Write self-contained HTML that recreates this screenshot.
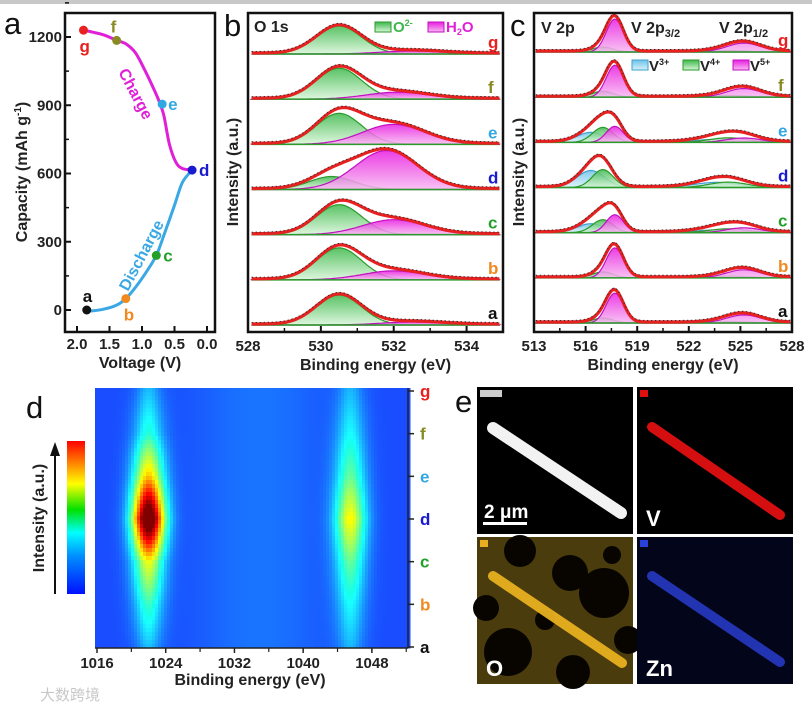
<!DOCTYPE html>
<html><head><meta charset="utf-8">
<style>
html,body{margin:0;padding:0;background:#fff;}
svg{display:block;font-family:"Liberation Sans","Noto Sans CJK SC",sans-serif;}
.tk{font-size:15px;font-weight:bold;fill:#222;}
.ttl{font-size:16px;font-weight:bold;fill:#222;}
.pl{font-size:31px;fill:#111;}
.lt{font-size:17px;font-weight:bold;}
</style></head>
<body>
<svg id="fig" width="812" height="713" viewBox="0 0 812 713">
<rect x="0" y="0" width="812" height="4" fill="#c8c8c8"/>
<defs>
<linearGradient id="gGreen" x1="0" y1="0" x2="0" y2="1"><stop offset="0" stop-color="#3cb84a"/><stop offset="1" stop-color="#d8f5d8"/></linearGradient>
<linearGradient id="gPink" x1="0" y1="0" x2="0" y2="1"><stop offset="0" stop-color="#e81ce0"/><stop offset="1" stop-color="#f8b8f2"/></linearGradient>
<linearGradient id="gBlue" x1="0" y1="0" x2="0" y2="1"><stop offset="0" stop-color="#6cc4e8"/><stop offset="1" stop-color="#d8f0fa"/></linearGradient>
<linearGradient id="gJet" x1="0" y1="1" x2="0" y2="0"><stop offset="0" stop-color="#0010ff"/><stop offset="0.25" stop-color="#0090ff"/><stop offset="0.4" stop-color="#00ffff"/><stop offset="0.55" stop-color="#00e000"/><stop offset="0.72" stop-color="#ffff00"/><stop offset="0.86" stop-color="#ff8000"/><stop offset="1" stop-color="#ff0000"/></linearGradient>
</defs>
<g id="pa"></g>
<g id="pb"></g>
<g id="pc"></g>
<g id="pd"></g>
<g id="pe"></g>
<text x="40" y="700" font-size="15" fill="#c8c8c8">大数跨境</text>
</svg>
<script>
// ---------- Panel a data ----------
const disV=[1.8,1.6,1.4,1.25,1.1,0.95,0.78,0.65,0.5,0.38,0.23];
const disC=[-5,3,20,50,100,160,240,340,460,560,615];
const chV=[0.23,0.38,0.48,0.58,0.66,0.72,0.8,0.95,1.1,1.25,1.39,1.6,1.9];
const chC=[615,622,650,730,850,905,960,1050,1130,1170,1185,1210,1230];
const ptLab=['a','b','c','d','e','f','g'];
const ptV=[1.85,1.25,0.78,0.23,0.69,1.39,1.9];
const ptC=[0,50,240,615,905,1185,1230];
const aXTicks=[2.0,1.5,1.0,0.5,0.0];
const aYTicks=[0,300,600,900,1200];
const labCol={a:'#111',b:'#f08a20',c:'#22a02a',d:'#1a1ad0',e:'#32a8e2',f:'#8a8a22',g:'#e82020'};

// ---------- Panel b data ----------
const oRows=['g','f','e','d','c','b','a'];
const oO2H=[28,31,31,13,30,32,30];
const oO2C=[530.5,530.5,530.5,530.3,530.5,530.5,530.5];
const oH2OH=[3,7,20,39,15,9,3];
const oH2OC=[532.5,532.1,532.0,531.8,532.0,532.0,532.5];
const bXTicks=[528,530,532,534];

// ---------- Panel c data ----------
const vRows=['g','f','e','d','c','b','a'];
const v5H=[33,32,16,0,18,30,30];
const v4H=[5,6,15,18,13,6,5];
const v3H=[0,0,10,17,9,0,0];
const cXTicks=[513,516,519,522,525,528];

// ---------- Panel d data ----------
const hmStates=['a','b','c','d','e','f','g'];
const hmPeak1=[0.05,0.17,0.35,0.9,0.42,0.15,0.05];
const hmPeak2=[0.05,0.12,0.22,0.38,0.22,0.12,0.05];
const dXTicks=[1016,1024,1032,1040,1048];

const NS='http://www.w3.org/2000/svg';
function mk(parent,tag,attrs){const e=document.createElementNS(NS,tag);for(const k in attrs)e.setAttribute(k,attrs[k]);parent.appendChild(e);return e;}
function txt(parent,x,y,s,cls,extra){const e=mk(parent,'text',Object.assign({x:x,y:y,class:cls||'tk'},extra||{}));e.textContent=s;return e;}
function smooth(pts){let d='M'+pts[0][0]+','+pts[0][1];for(let i=0;i<pts.length-1;i++){const p0=pts[Math.max(i-1,0)],p1=pts[i],p2=pts[i+1],p3=pts[Math.min(i+2,pts.length-1)];const c1=[p1[0]+(p2[0]-p0[0])/6,p1[1]+(p2[1]-p0[1])/6],c2=[p2[0]-(p3[0]-p1[0])/6,p2[1]-(p3[1]-p1[1])/6];d+=' C'+c1[0].toFixed(1)+','+c1[1].toFixed(1)+' '+c2[0].toFixed(1)+','+c2[1].toFixed(1)+' '+p2[0].toFixed(1)+','+p2[1].toFixed(1);}return d;}
function gau(x,c,s){return Math.exp(-0.5*((x-c)/s)*(x-c)/s);}

// ================= Panel A =================
(function(){
const g=document.getElementById('pa');
const X=v=>77+(2-v)*65, Y=c=>310-c*0.2275;
let e=txt(g,4,34,'a','pl');
let r=mk(g,'rect',{x:65,y:13,width:150,height:319,fill:'none',stroke:'#111','stroke-width':2.5});

aYTicks.forEach(t=>{const y=Y(t);const l=mk(g,'line',{x1:65,x2:71,y1:y,y2:y,stroke:'#111','stroke-width':2});
 const m=mk(g,'line',{x1:65,x2:69,y1:Y(t+150),y2:Y(t+150),stroke:'#111','stroke-width':1.5});
 const tt=txt(g,62,y+5,String(t),'tk',{'text-anchor':'end'});});
aXTicks.forEach(t=>{const x=X(t);const l=mk(g,'line',{x1:x,x2:x,y1:332,y2:326,stroke:'#111','stroke-width':2});
 const tt=txt(g,x,349,t.toFixed(1),'tk',{'text-anchor':'middle'});});
e=txt(g,140,368,'Voltage (V)','ttl',{'text-anchor':'middle'});
e=mk(g,'text',{x:0,y:0,class:'ttl',transform:'translate(27,172) rotate(-90)','text-anchor':'middle'});
e.innerHTML='Capacity (mAh g<tspan font-size="10" dy="-6">-1</tspan><tspan dy="6">)</tspan>';

let p=mk(g,'path',{d:smooth(disV.map((v,i)=>[X(v),Y(disC[i])])),fill:'none',stroke:'#3aa8e4','stroke-width':3});

p=mk(g,'path',{d:smooth(chV.map((v,i)=>[X(v),Y(chC[i])])),fill:'none',stroke:'#e020d8','stroke-width':3});

e=txt(g,0,0,'Charge','ttl',{fill:'#e020d8',transform:'translate(118,72) rotate(62)'});e.style.fill='#e020d8';
e=txt(g,0,0,'Discharge','ttl',{transform:'translate(128,292) rotate(-62)'});e.style.fill='#3aa8e4';
const off={a:[-4,-8],b:[-2,22],c:[7,6],d:[7,6],e:[6,6],f:[-6,-8],g:[-4,22]};
ptLab.forEach((l,i)=>{const x=X(ptV[i]),y=Y(ptC[i]);const c=mk(g,'circle',{cx:x,cy:y,r:4.5,fill:labCol[l]});
 const t=txt(g,x+off[l][0],y+off[l][1],l,'lt');t.style.fill=labCol[l];});
})();

// ============ spectra helper ============
function spectrum(g,X,E0,E1,base,comps,envFn,label,labX){
 const N=120;
 comps.forEach(cp=>{if(cp.h<=0.3)return;let d='M'+X(E0)+','+base;for(let k=0;k<=N;k++){const E=E0+(E1-E0)*k/N;d+=' L'+X(E).toFixed(1)+','+(base-cp.f(E)).toFixed(1);}d+=' L'+X(E1)+','+base+'Z';
  const p=mk(g,'path',{d:d,fill:cp.fill,stroke:cp.stroke,'stroke-width':1.2,'fill-opacity':0.85});});
 let d='';for(let k=0;k<=N;k++){const E=E0+(E1-E0)*k/N;d+=(k?' L':'M')+X(E).toFixed(1)+','+(base-envFn(E)).toFixed(1);}
 let l=mk(g,'line',{x1:X(E0),x2:X(E1),y1:base,y2:base,stroke:'#2a9a2a','stroke-width':1.5});
 let p=mk(g,'path',{d:d,fill:'none',stroke:'#e82020','stroke-width':3.2});
 p=mk(g,'path',{d:d,fill:'none',stroke:'#333','stroke-width':1,'stroke-dasharray':'1.5 2.5',transform:'translate(0,-1.5)'});
 const t=txt(g,labX,base-6,label,'lt');t.style.fill=labCol[label];
}
function frame(g,x0,x1,ticks,Xf,name,minorStep){
 let r=mk(g,'rect',{x:x0,y:13,width:x1-x0,height:319,fill:'none',stroke:'#111','stroke-width':2.5});
 ticks.forEach(t=>{const x=Xf(t);const l=mk(g,'line',{x1:x,x2:x,y1:332,y2:326,stroke:'#111','stroke-width':2});
  const m=mk(g,'line',{x1:Xf(t+minorStep),x2:Xf(t+minorStep),y1:332,y2:328,stroke:'#111','stroke-width':1.5});
  const tt=txt(g,x,351,String(t),'tk',{'text-anchor':'middle'});});
 const e=txt(g,(x0+x1)/2,370,'Binding energy (eV)','ttl',{'text-anchor':'middle'});
 const y=txt(g,0,0,'Intensity (a.u.)','ttl',{transform:'translate('+(x0-10)+',172) rotate(-90)','text-anchor':'middle'});
}

// ================= Panel B =================
(function(){
const g=document.getElementById('pb');
const X=E=>248+(E-528)*36.43;
let e=txt(g,224,36,'b','pl');
oRows.forEach((lab,i)=>{const base=54+i*45.17;
 const fO=E=>oO2H[i]*gau(E,oO2C[i],0.62), fH=E=>oH2OH[i]*gau(E,oH2OC[i],0.85);
 const g2=mk(g,'g',{});
 spectrum(g2,X,528.1,534.9,base,[
  {h:oO2H[i],f:fO,fill:'url(#gGreen)',stroke:'#2a9a2a',name:'o2-peak-'+lab},
  {h:oH2OH[i],f:fH,fill:'url(#gPink)',stroke:'#c010c0',name:'h2o-peak-'+lab}],
  E=>fO(E)+fH(E)+1,lab,488);
});
frame(g,248,503,bXTicks,X,'b',1);
e=txt(g,254,32,'O 1s','ttl');
let r=mk(g,'rect',{x:375,y:22,width:16,height:10,fill:'url(#gGreen)',stroke:'#2a9a2a'});
e=mk(g,'text',{x:393,y:32,class:'tk'});e.innerHTML='O<tspan font-size="9" dy="-6">2-</tspan>';e.style.fill='#3cb84a';
r=mk(g,'rect',{x:428,y:22,width:16,height:10,fill:'url(#gPink)',stroke:'#c010c0'});
e=mk(g,'text',{x:446,y:32,class:'tk'});e.innerHTML='H<tspan font-size="9" dy="3">2</tspan><tspan dy="-3">O</tspan>';e.style.fill='#e020d8';
})();

// ================= Panel C =================
(function(){
const g=document.getElementById('pc');
const X=E=>534+(E-513)*17.2;
let e=txt(g,510,36,'c','pl');
vRows.forEach((lab,i)=>{const base=52+i*45.17;
 const f5=E=>v5H[i]*(gau(E,517.7,0.5)+0.27*gau(E,525.2,1.0));
 const f4=E=>v4H[i]*(gau(E,517.0,0.6)+0.3*gau(E,524.3,1.1));
 const f3=E=>v3H[i]*(gau(E,516.3,0.8)+0.3*gau(E,523.6,1.3));
 const g2=mk(g,'g',{});
 spectrum(g2,X,513.1,527.9,base,[
  {h:v3H[i],f:f3,fill:'url(#gBlue)',stroke:'#40a0d0',name:'v3-peak-'+lab},
  {h:v4H[i],f:f4,fill:'url(#gGreen)',stroke:'#2a9a2a',name:'v4-peak-'+lab},
  {h:v5H[i],f:f5,fill:'url(#gPink)',stroke:'#c010c0',name:'v5-peak-'+lab}],
  E=>f5(E)+f4(E)+f3(E)+1,lab,778);
});
frame(g,534,792,cXTicks,X,'c',1.5);
e=txt(g,541,33,'V 2p','ttl');
e=mk(g,'text',{x:631,y:33,class:'ttl'});e.innerHTML='V 2p<tspan font-size="11" dy="4">3/2</tspan>';
e=mk(g,'text',{x:719,y:33,class:'ttl'});e.innerHTML='V 2p<tspan font-size="11" dy="4">1/2</tspan>';
const lg=[['v3','V','3+','url(#gBlue)','#40a0d0',632],['v4','V','4+','url(#gGreen)','#2a9a2a',683],['v5','V','5+','url(#gPink)','#c010c0',733]];
lg.forEach(L=>{let r=mk(g,'rect',{x:L[5],y:60,width:16,height:10,fill:L[3],stroke:L[4]});
 let t=mk(g,'text',{x:L[5]+17,y:71,class:'tk'});t.innerHTML='V<tspan font-size="9" dy="-6">'+L[2]+'</tspan>';});
})();

// ================= Panel D =================
(function(){
const g=document.getElementById('pd');
const x0=95,x1=408,y0=388,y1=648;
const X=E=>97+(E-1016)*8.59;
const Einv=x=>1016+(x-97)/8.59;
const Ys=i=>y1-1-i*((y1-y0-4)/6);
let e=txt(g,26,418,'d','pl');
function jet(v){v=Math.max(0,Math.min(1,v));const c=t=>Math.round(255*Math.max(0,Math.min(1,1.5-Math.abs(t))));return 'rgb('+Math.max(c(4*v-3),25)+','+c(4*v-2)+','+Math.max(c(4*v-1),0)+')';}
const cw=3,ch=4;const cells=mk(g,'g',{});
for(let y=y0;y<y1;y+=ch){
 const yc=y+ch/2;let s=(y1-1-yc)/((y1-y0-4)/6);s=Math.max(0,Math.min(6,s));const i=Math.min(5,Math.floor(s)),fr=s-i;
 const A1=hmPeak1[i]*(1-fr)+hmPeak1[i+1]*fr, A2=hmPeak2[i]*(1-fr)+hmPeak2[i+1]*fr;
 for(let x=x0;x<x1;x+=cw){const E=Einv(x+cw/2);
  const v=0.2+0.04*gau(E,1035,5)+A1*gau(E,1022,1.35)+A2*gau(E,1045.5,1.35)+0.06*gau(E,1022,0.8)+0.05*gau(E,1045.5,0.8);
  const r=mk(cells,'rect',{x:x,y:y,width:cw+0.5,height:ch+0.5,fill:jet(v)});
  
  }
}
let l=mk(g,'line',{x1:x1,x2:x1,y1:y0,y2:y1,stroke:'#222','stroke-width':1.5});
l=mk(g,'line',{x1:x0,x2:x1,y1:y1,y2:y1,stroke:'#222','stroke-width':1.5});
hmStates.forEach((s,i)=>{const y=Ys(i);l=mk(g,'line',{x1:x1,x2:x1+6,y1:y,y2:y,stroke:'#222','stroke-width':1.5});
 const t=txt(g,420,y+6,s,'lt');t.style.fill=labCol[s];});
dXTicks.forEach(t=>{const x=X(t);l=mk(g,'line',{x1:x,x2:x,y1:y1,y2:y1+5,stroke:'#222','stroke-width':1.5});
 l=mk(g,'line',{x1:X(t+4),x2:X(t+4),y1:y1,y2:y1+4,stroke:'#222','stroke-width':1.2});
 const tt=txt(g,x,668,String(t),'tk',{'text-anchor':'middle'});});
e=txt(g,250,685,'Binding energy (eV)','ttl',{'text-anchor':'middle'});
let r=mk(g,'rect',{x:67,y:441,width:18,height:153,fill:'url(#gJet)'});
l=mk(g,'line',{x1:55,x2:55,y1:594,y2:452,stroke:'#111','stroke-width':2});
let p=mk(g,'path',{d:'M50,456 L55,442 L60,456 Z',fill:'#111'});
e=txt(g,0,0,'Intensity (a.u.)','ttl',{transform:'translate(44,518) rotate(-90)','text-anchor':'middle'});
})();

// ================= Panel E =================
(function(){
const g=document.getElementById('pe');
let e=txt(g,455,412,'e','pl');
const tiles=[['image-haadf',477,387,'#ffffff',[493,428,621,513],''],['image-v',637,387,'#e01010',[652,427,780,515],'V'],['image-o',477,537,'#e8b020',[493,576,622,663],'O'],['image-zn',637,537,'#2a40d8',[652,576,780,662],'Zn']];
tiles.forEach(T=>{const t=mk(g,'g',{});
 mk(t,'rect',{x:T[1],y:T[2],width:156,height:147,fill:T[0]==='image-o'?'#4a3c0c':(T[0]==='image-zn'?'#03051a':'#000')});
 if(T[0]==='image-o'){[[520,551,16],[570,573,18],[604,593,25],[486,608,13],[508,652,24],[573,672,17],[612,555,9],[545,620,10],[628,640,14]].forEach(c=>mk(t,'circle',{cx:c[0],cy:c[1],r:c[2],fill:'#080500'}));}
 const R=T[4];mk(t,'line',{x1:R[0],y1:R[1],x2:R[2],y2:R[3],stroke:T[3],'stroke-width':T[0]==='image-haadf'?12:10,'stroke-linecap':'round','stroke-opacity':T[0]==='image-zn'?0.8:0.95});
 mk(t,'rect',{x:T[1]+3,y:T[2]+3,width:T[0]==='image-haadf'?22:8,height:7,fill:T[0]==='image-haadf'?'#ccc':T[3]});
 if(T[5]){const tt=txt(t,T[1]+9,T[2]+139,T[5],'ttl',{'font-size':'22'});tt.style.fill='#fff';tt.style.fontSize='22px';}
});
let t=txt(g,484,518,'2 μm','ttl',{'font-size':'19'});t.style.fill='#fff';t.style.fontSize='19px';
let r=mk(g,'rect',{x:483,y:522,width:44,height:3,fill:'#fff'});
})();
</script>
</body></html>
